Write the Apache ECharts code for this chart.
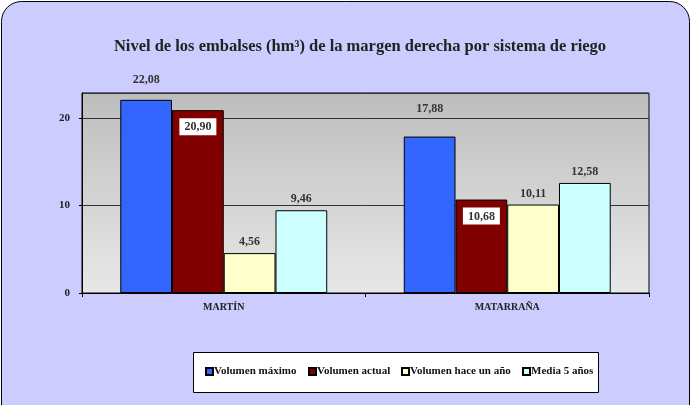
<!DOCTYPE html>
<html>
<head>
<meta charset="utf-8">
<script src="https://cdn.jsdelivr.net/npm/echarts@6/dist/echarts.min.js"></script>
<style>
  html, body { margin: 0; padding: 0; background: #fff; }
  #echart-bar { width: 692px; height: 405px; }
</style>
</head>
<body>
<div id="echart-bar"></div>
<script>
// datos
const categories = ['MARTÍN', 'MATARRAÑA']
const seriesNames = ['Volumen máximo', 'Volumen actual', 'Volumen hace un año', 'Media 5 años']
const volumenMaximo = [22.08, 17.88]
const volumenActual = [20.90, 10.68]
const volumenHaceUnAno = [4.56, 10.11]
const media5Anos = [9.46, 12.58]
const yTicks = [0, 10, 20]

const serif = 'Liberation Serif'
const fmt = v => v.toFixed(2).replace('.', ',')

const getchart = echarts.init(document.getElementById('echart-bar'))

const topLabel = {
  show: true,
  position: 'top',
  distance: 5,
  fontFamily: serif,
  fontWeight: 'bold',
  fontSize: 12,
  color: '#333',
  formatter: p => fmt(p.value)
}

function barSeries(name, data, color, label) {
  return {
    name: name,
    type: 'bar',
    data: data,
    barGap: '0%',
    barCategoryGap: '27%',
    itemStyle: { color: color, borderColor: '#000', borderWidth: 1 },
    label: label
  }
}

// una leyenda por serie para fijar la posicion de cada una
const legendLefts = [205, 308, 401, 522]
const legends = seriesNames.map((name, i) => ({
  data: [name],
  left: legendLefts[i],
  top: 366,
  padding: 0,
  itemWidth: 7,
  itemHeight: 7,
  icon: 'rect',
  z: 5,
  textStyle: { fontFamily: serif, fontWeight: 'bold', fontSize: 11, color: '#111', padding: [0, 0, 0, -4] }
}))

const option = {
  backgroundColor: '#fff',
  animation: false,
  graphic: [
    {
      type: 'rect',
      z: -10,
      shape: { x: 1.5, y: 1.5, width: 688, height: 440, r: 20 },
      style: { fill: '#CCCCFF', stroke: '#000', lineWidth: 1 }
    },
    {
      type: 'rect',
      z: 1,
      shape: { x: 193.5, y: 352.5, width: 405, height: 40 },
      style: { fill: '#fff', stroke: '#000', lineWidth: 1 }
    },
    {
      type: 'text',
      z: 5,
      x: 360,
      y: 47,
      style: {
        text: 'Nivel de los embalses (hm³) de la margen derecha por sistema de riego',
        fontFamily: serif,
        fontWeight: 'bold',
        fontSize: 16.5,
        fill: '#222',
        align: 'center',
        verticalAlign: 'middle'
      }
    }
  ],
  legend: legends,
  grid: {
    left: 82,
    right: 43,
    top: 93,
    bottom: 112,
    show: true,
    borderColor: '#000',
    borderWidth: 1,
    backgroundColor: {
      type: 'linear', x: 0, y: 0, x2: 0, y2: 1,
      colorStops: [{ offset: 0, color: '#BDBDBD' }, { offset: 1, color: '#E8E8E8' }]
    }
  },
  xAxis: {
    type: 'category',
    data: categories,
    axisLine: { lineStyle: { color: '#000', width: 1 } },
    axisTick: { show: true, length: 4, lineStyle: { color: '#000' } },
    axisLabel: { fontFamily: serif, fontWeight: 'bold', fontSize: 10, color: '#222', margin: 9 }
  },
  yAxis: {
    type: 'value',
    min: 0,
    max: 22.86,
    interval: 10,
    axisLine: { show: true, lineStyle: { color: '#000', width: 1 } },
    axisTick: { show: true, length: 3, lineStyle: { color: '#000' } },
    splitLine: { lineStyle: { color: '#333', width: 1 } },
    axisLabel: {
      fontFamily: serif, fontWeight: 'bold', fontSize: 11, color: '#222', margin: 12,
      showMaxLabel: false,
      formatter: v => (yTicks.indexOf(v) >= 0 ? String(v) : '')
    }
  },
  series: [
    barSeries(seriesNames[0], volumenMaximo.map((v, i) => ({
      value: v,
      label: { distance: i === 0 ? 14 : 22 }
    })), '#3366FF', topLabel),
    barSeries(seriesNames[1], volumenActual, '#800000', {
      show: true,
      position: 'insideTop',
      distance: 8,
      fontFamily: serif,
      fontWeight: 'bold',
      fontSize: 12,
      color: '#333',
      backgroundColor: '#fff',
      padding: [3, 5, 2, 5],
      formatter: p => fmt(p.value)
    }),
    barSeries(seriesNames[2], volumenHaceUnAno, '#FFFFCC', topLabel),
    barSeries(seriesNames[3], media5Anos, '#CCFFFF', topLabel)
  ]
}
getchart.setOption(option)
</script>
</body>
</html>
